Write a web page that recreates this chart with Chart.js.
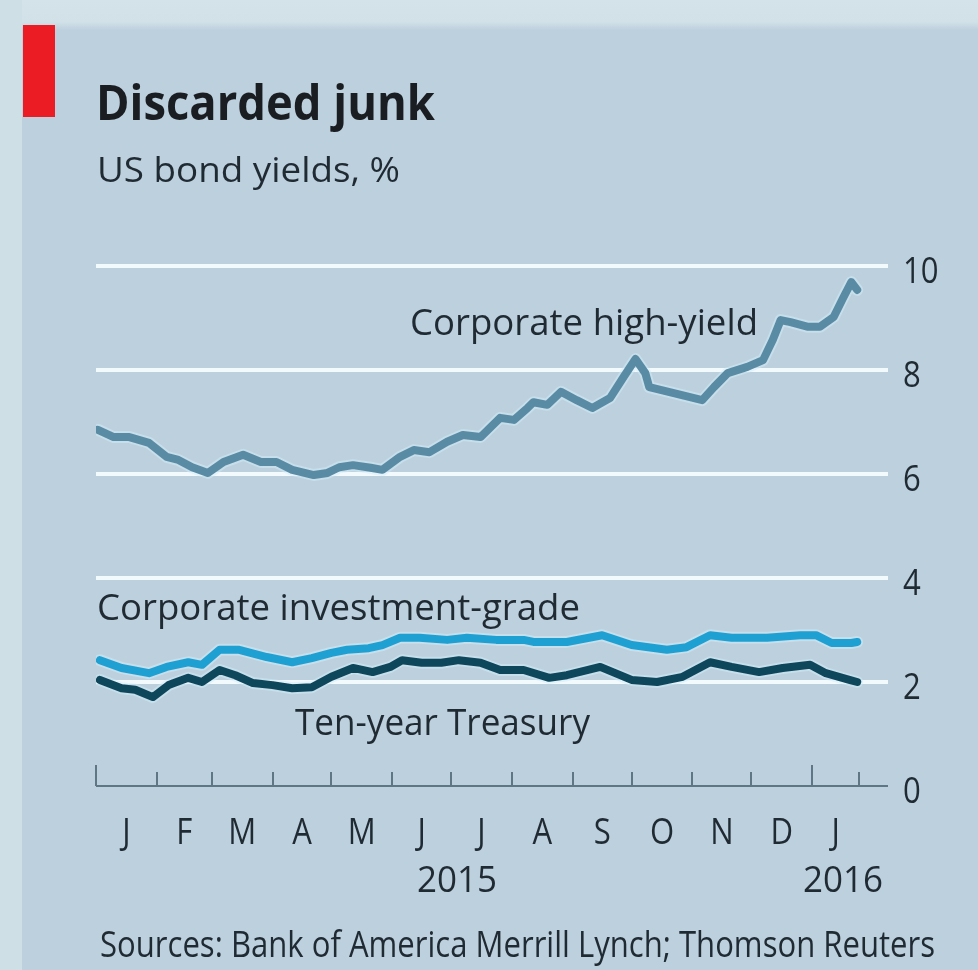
<!DOCTYPE html>
<html>
<head>
<meta charset="utf-8">
<script src="https://cdn.jsdelivr.net/npm/chart.js@4/dist/chart.umd.min.js"></script>
<style>
  html, body { margin: 0; padding: 0; }
  body { width: 978px; height: 970px; background: #bdd0dd; position: relative; overflow: hidden; }
  .edge-top { position: absolute; left: 0; top: 0; width: 978px; height: 30px;
    background: linear-gradient(#d4e2e9 0, #d2e1e8 22px, #bdd0dd 30px); }
  .edge-left { position: absolute; left: 0; top: 0; width: 22px; height: 970px; background: #cfdfe6; }
  .tag { position: absolute; left: 23px; top: 25px; width: 32px; height: 92px; background: #ec1c24; }
  canvas { position: absolute; left: 0; top: 0; }
</style>
</head>
<body>
<div class="edge-top"></div>
<div class="edge-left"></div>
<div class="tag"></div>
<canvas id="chart" width="978" height="970"></canvas>
<script>
// US bond yields, %, Jan 2015 - Jan 2016
const hyDates = ['2015-01-02','2015-01-10','2015-01-18','2015-01-28','2015-02-06','2015-02-12','2015-02-19','2015-02-27',
  '2015-03-07','2015-03-17','2015-03-26','2015-04-03','2015-04-11','2015-04-22','2015-04-29','2015-05-05','2015-05-12',
  '2015-05-21','2015-05-27','2015-06-05','2015-06-12','2015-06-20','2015-06-29','2015-07-07','2015-07-16','2015-07-26',
  '2015-08-02','2015-08-09','2015-08-12','2015-08-19','2015-08-26','2015-09-03','2015-09-11','2015-09-20','2015-09-27',
  '2015-10-03','2015-10-08','2015-10-10','2015-10-22','2015-11-06','2015-11-12','2015-11-19','2015-11-29','2015-12-07',
  '2015-12-12','2015-12-16','2015-12-21','2015-12-30','2016-01-05','2016-01-12','2016-01-17','2016-01-21','2016-01-24'];
const hyValues = [6.85,6.71,6.71,6.60,6.33,6.27,6.13,6.02,
  6.23,6.37,6.23,6.23,6.08,5.98,6.02,6.13,6.17,
  6.12,6.08,6.33,6.46,6.42,6.62,6.75,6.71,7.08,
  7.04,7.27,7.38,7.33,7.58,7.42,7.27,7.46,7.87,
  8.21,7.94,7.67,7.56,7.42,7.67,7.94,8.06,8.19,
  8.58,8.96,8.92,8.83,8.83,9.02,9.40,9.69,9.54];

const igDates = ['2015-01-03','2015-01-14','2015-01-28','2015-02-06','2015-02-17','2015-02-24','2015-03-05','2015-03-15',
  '2015-03-29','2015-04-11','2015-04-21','2015-05-01','2015-05-09','2015-05-20','2015-05-27','2015-06-05','2015-06-15',
  '2015-06-29','2015-07-09','2015-07-24','2015-08-07','2015-08-12','2015-08-29','2015-09-16','2015-10-01','2015-10-19',
  '2015-10-29','2015-11-10','2015-11-21','2015-12-09','2015-12-26','2016-01-03','2016-01-11','2016-01-21','2016-01-24'];
const igValues = [2.42,2.27,2.17,2.29,2.38,2.33,2.62,2.62,
  2.48,2.38,2.46,2.56,2.62,2.65,2.71,2.85,2.85,
  2.81,2.85,2.81,2.81,2.77,2.77,2.90,2.71,2.62,
  2.67,2.90,2.85,2.85,2.90,2.90,2.75,2.75,2.77];

const tyDates = ['2015-01-03','2015-01-14','2015-01-21','2015-01-30','2015-02-07','2015-02-17','2015-02-24','2015-03-05',
  '2015-03-13','2015-03-22','2015-04-01','2015-04-11','2015-04-21','2015-05-01','2015-05-12','2015-05-22','2015-05-31',
  '2015-06-06','2015-06-16','2015-06-26','2015-07-05','2015-07-16','2015-07-26','2015-08-07','2015-08-20','2015-08-29',
  '2015-09-15','2015-10-01','2015-10-14','2015-10-27','2015-11-10','2015-11-21','2015-12-05','2015-12-17','2015-12-31',
  '2016-01-08','2016-01-20','2016-01-24'];
const tyValues = [2.04,1.88,1.85,1.71,1.94,2.08,2.00,2.23,
  2.13,1.98,1.94,1.88,1.90,2.10,2.27,2.19,2.29,
  2.42,2.37,2.37,2.42,2.37,2.23,2.23,2.08,2.13,
  2.29,2.04,2.00,2.10,2.38,2.29,2.19,2.27,2.33,
  2.17,2.04,2.00];

const monthLabels = ['J','F','M','A','M','J','J','A','S','O','N','D','J'];
const monthStarts = ['2015-01-01','2015-02-01','2015-03-01','2015-04-01','2015-05-01','2015-06-01','2015-07-01',
  '2015-08-01','2015-09-01','2015-10-01','2015-11-01','2015-12-01','2016-01-01','2016-01-25'];
const yearLabels = ['2015','2016'];
const yTicks = [0, 2, 4, 6, 8, 10];

const seriesNames = ['Corporate high-yield', 'Corporate investment-grade', 'Ten-year Treasury'];
const titleText = 'Discarded junk';
const subtitleText = 'US bond yields, %';
const sourceText = 'Sources: Bank of America Merrill Lynch; Thomson Reuters';

// days elapsed since 1 Jan 2015
const ORIGIN = Date.UTC(2015, 0, 1);
function dayNum(s) {
  const [y, m, d] = s.split('-').map(Number);
  return (Date.UTC(y, m - 1, d) - ORIGIN) / 86400000;
}
function pts(dates, values) { return dates.map((d, i) => ({ x: dayNum(d), y: values[i] })); }

const FONT = '"Open Sans", "Noto Sans", sans-serif';
const INK = '#1f2a33';
const AXIS = '#5f7784';

const colors = { hy: '#5a8ba4', ig: '#1fa0d3', ty: '#0e475b' };
const halo = 'rgba(210,236,250,0.5)';

function lineSet(label, data, color, width, order) {
  return { label, data, borderColor: color, borderWidth: width, pointRadius: 0, tension: 0,
    borderJoinStyle: 'round', borderCapStyle: 'round', fill: false, order };
}

// draws a string at a given left edge/baseline, optionally squeezed to a given width
function drawText(ctx, str, x, y, font, color, opts = {}) {
  ctx.save();
  ctx.font = font;
  const w = ctx.measureText(str).width;
  const sx = opts.width ? opts.width / w : (opts.scale || 1);
  let left = x;
  if (opts.align === 'center') left = x - (w * sx) / 2;
  if (opts.align === 'right') left = x - w * sx;
  ctx.translate(left, y);
  ctx.scale(sx, 1);
  ctx.fillStyle = color;
  ctx.textAlign = 'left';
  ctx.textBaseline = 'alphabetic';
  ctx.fillText(str, 0, 0);
  ctx.restore();
}

const decorations = {
  id: 'decorations',
  afterDraw(chart) {
    const ctx = chart.ctx;
    const xs = chart.scales.x, ys = chart.scales.y;
    const area = chart.chartArea;
    const bodyFont = '37px ' + FONT;

    // common horizontal squeeze, taken from the source line
    ctx.save(); ctx.font = bodyFont;
    const squeeze = 835 / ctx.measureText(sourceText).width;
    ctx.restore();

    // baseline axis with month ticks
    const y0 = ys.getPixelForValue(0);
    ctx.save();
    ctx.strokeStyle = AXIS;
    ctx.lineWidth = 2;
    ctx.beginPath();
    ctx.moveTo(area.left, y0); ctx.lineTo(area.right, y0);
    monthStarts.forEach((d, i) => {
      const px = Math.round(xs.getPixelForValue(dayNum(d)));
      const tall = (i === 0 || i === 12);
      ctx.moveTo(px, y0); ctx.lineTo(px, y0 - (tall ? 21 : 14));
    });
    ctx.stroke();
    ctx.restore();

    // y labels on the right
    yTicks.forEach(v => {
      const py = ys.getPixelForValue(v);
      drawText(ctx, String(v), area.right + 15, py + 17, bodyFont, INK, { scale: squeeze });
    });

    // month initials, centred inside each month
    monthLabels.forEach((m, i) => {
      const a = xs.getPixelForValue(dayNum(monthStarts[i]));
      const b = xs.getPixelForValue(dayNum(monthStarts[i + 1]));
      drawText(ctx, m, (a + b) / 2, y0 + 58, bodyFont, INK, { scale: squeeze, align: 'center' });
    });

    // years
    const midYear = (xs.getPixelForValue(0) + xs.getPixelForValue(365)) / 2;
    drawText(ctx, yearLabels[0], midYear + 3, y0 + 106, bodyFont, INK, { width: 80, align: 'center' });
    drawText(ctx, yearLabels[1], xs.getPixelForValue(365) - 9, y0 + 106, bodyFont, INK, { width: 80 });

    // series labels
    drawText(ctx, seriesNames[0], 410, 335, bodyFont, INK, { width: 348 });
    drawText(ctx, seriesNames[1], 97, 620, bodyFont, INK, { width: 483 });
    drawText(ctx, seriesNames[2], 295, 735, bodyFont, INK, { width: 295 });

    // heading and source
    drawText(ctx, titleText, 96, 120, 'bold 49px ' + FONT, '#1a1d21', { width: 339 });
    drawText(ctx, subtitleText, 97, 182, '34px ' + FONT, INK, { width: 303 });
    drawText(ctx, sourceText, 100, 957, bodyFont, INK, { width: 835 });
  }
};

new Chart(document.getElementById('chart'), {
  type: 'line',
  data: {
    datasets: [
      lineSet(seriesNames[0], pts(hyDates, hyValues), colors.hy, 8, 1),
      lineSet(seriesNames[1], pts(igDates, igValues), colors.ig, 8, 1),
      lineSet(seriesNames[2], pts(tyDates, tyValues), colors.ty, 8, 1),
      lineSet('', pts(hyDates, hyValues), halo, 12, 2),
      lineSet('', pts(igDates, igValues), halo, 12, 2),
      lineSet('', pts(tyDates, tyValues), halo, 12, 2)
    ]
  },
  options: {
    responsive: false,
    animation: false,
    devicePixelRatio: 1,
    layout: { padding: { left: 96, right: 90, top: 266, bottom: 184 } },
    plugins: { legend: { display: false }, tooltip: { enabled: false }, title: { display: false } },
    scales: {
      x: { type: 'linear', min: 0, max: 403.7, display: false },
      y: {
        min: 0, max: 10,
        afterBuildTicks: s => { s.ticks = yTicks.map(v => ({ value: v })); },
        ticks: { display: false },
        border: { display: false },
        grid: {
          drawTicks: false,
          color: c => (c.tick && c.tick.value === 0) ? 'rgba(0,0,0,0)' : '#f3fafd',
          lineWidth: 4
        }
      }
    }
  },
  plugins: [decorations]
});
</script>
</body>
</html>
